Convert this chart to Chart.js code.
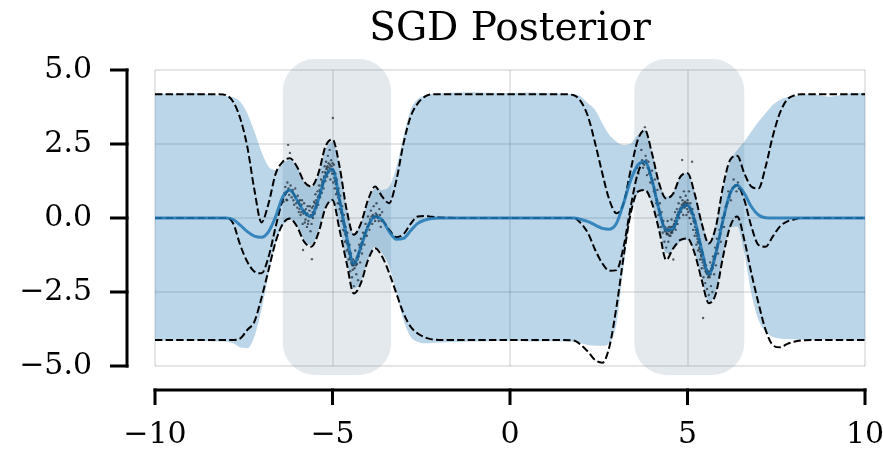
<!DOCTYPE html>
<html>
<head>
<meta charset="utf-8">
<script src="https://cdn.jsdelivr.net/npm/chart.js@4.4.1/dist/chart.umd.min.js"></script>
<style>
  html, body { margin: 0; padding: 0; background: #fff; }
  canvas { display: block; }
</style>
</head>
<body>
<canvas id="posterior" width="883" height="449"></canvas>
<script>
// Common input grid for every curve
const xs = [
  -10, -9.5, -9, -8.5, -8.2,
  -8.0, -7.8, -7.6, -7.4, -7.2, -7.0, -6.8, -6.6, -6.4, -6.2, -6.0, -5.8, -5.6, -5.4, -5.2, -5.0,
  -4.8, -4.6, -4.4, -4.2, -4.0, -3.8, -3.6, -3.4, -3.2, -3.0, -2.8, -2.6, -2.4, -2.2, -2.0,
  -1.5, -1.0, -0.5, 0, 0.5, 1.0, 1.5, 1.8,
  2.0, 2.2, 2.4, 2.6, 2.8, 3.0, 3.2, 3.4, 3.6, 3.8, 4.0, 4.2, 4.4, 4.6, 4.8, 5.0,
  5.2, 5.4, 5.6, 5.8, 6.0, 6.2, 6.4, 6.6, 6.8, 7.0, 7.2, 7.4, 7.6, 7.8, 8.0,
  8.2, 8.5, 9.0, 9.5, 10
];

// Exact posterior: mean and +/- 2 std (dashed)
const exactUpper = [
  4.18, 4.18, 4.18, 4.18, 4.18,
  4.15, 3.93, 3.37, 2.41, 0.95, -0.15, 0.5, 1.5, 1.9, 2.02, 1.73, 1.23, 1.06, 1.5, 2.41, 2.66,
  1.73, 0.27, -0.57, -0.18, 0.61, 1.06, 0.72, 0.5, 1.28, 2.52, 3.42, 3.87, 4.1, 4.18, 4.18,
  4.18, 4.18, 4.18, 4.18, 4.18, 4.18, 4.18, 4.15,
  3.93, 3.42, 2.52, 1.51, 0.61, 0.16, 0.5, 1.62, 2.64, 2.97, 2.18, 1.17, 0.66, 0.83, 1.4, 1.51,
  0.83, -0.18, -0.86, -0.29, 1.06, 1.96, 2.1, 1.51, 1.06, 1.0, 1.73, 2.75, 3.54, 3.99, 4.14,
  4.18, 4.18, 4.18, 4.18, 4.18
];
const exactMean = [
  0, 0, 0, 0, 0,
  0, -0.18, -0.91, -1.48, -1.81, -1.87, -1.31, -0.29, 0.61, 0.95, 0.61, 0.21, 0.05, 0.61, 1.4, 1.65,
  0.61, -0.63, -1.55, -0.97, -0.29, 0.05, -0.07, -0.4, -0.65, -0.55, -0.2, 0.05, 0.07, 0.04, 0.02,
  0, 0, 0, 0, 0, 0, 0, 0,
  -0.18, -0.52, -1.08, -1.53, -1.78, -1.76, -0.97, 0.38, 1.51, 1.9, 1.28, 0.27, -0.41, -0.35, 0.27, 0.44,
  -0.07, -1.08, -1.9, -1.19, -0.07, 0.83, 1.11, 0.61, -0.29, -0.91, -0.97, -0.63, -0.29, -0.12, -0.05,
  0, 0, 0, 0, 0
];
const exactLower = [
  -4.12, -4.12, -4.12, -4.12, -4.12,
  -4.12, -4.12, -4.07, -3.78, -3.5, -2.7, -1.75, -0.8, -0.2, -0.02, -0.29, -0.8, -0.97, -0.52, 0.33, 0.61,
  -0.41, -1.53, -2.55, -2.2, -1.42, -1.02, -1.31, -1.87, -2.55, -3.22, -3.67, -3.9, -4.03, -4.1, -4.12,
  -4.12, -4.12, -4.12, -4.12, -4.12, -4.12, -4.12, -4.14,
  -4.29, -4.52, -4.8, -4.89, -4.35, -3.0, -1.31, 0.16, 0.89, 0.95, 0.5, -0.41, -1.42, -1.02, -0.74, -0.69,
  -1.19, -2.09, -2.88, -2.55, -1.31, -0.29, 0.05, -0.74, -1.87, -2.88, -3.78, -4.29, -4.37, -4.26, -4.18,
  -4.14, -4.12, -4.12, -4.12, -4.12
];

// SGD approximation: mean and +/- 2 std band
const sgdMean = [
  0, 0, 0, 0, 0,
  0, -0.05, -0.24, -0.46, -0.61, -0.65, -0.46, 0.05, 0.72, 0.95, 0.61, 0.21, 0.05, 0.61, 1.4, 1.65,
  0.61, -0.63, -1.55, -0.97, -0.29, 0.05, -0.07, -0.46, -0.72, -0.69, -0.43, -0.18, -0.07, -0.02, 0,
  0, 0, 0, 0, 0, 0, 0, 0,
  -0.05, -0.12, -0.24, -0.35, -0.38, -0.18, 0.5, 1.28, 1.79, 1.9, 1.28, 0.27, -0.41, -0.35, 0.27, 0.44,
  -0.07, -1.08, -1.9, -1.19, -0.07, 0.83, 1.11, 0.83, 0.38, 0.1, 0.01, 0, 0, 0, 0,
  0, 0, 0, 0, 0
];
const sgdUpper = [
  4.21, 4.2, 4.23, 4.18, 4.14,
  4.12, 4.08, 3.93, 3.54, 2.92, 2.24, 1.73, 1.62, 1.85, 1.96, 1.73, 1.23, 1.06, 1.45, 2.3, 2.58,
  1.73, 0.33, -0.52, -0.18, 0.55, 1.0, 0.95, 1.06, 1.73, 2.75, 3.65, 4.01, 4.13, 4.19, 4.21,
  4.24, 4.25, 4.23, 4.22, 4.24, 4.22, 4.2, 4.18,
  4.1, 3.87, 3.65, 3.2, 2.8, 2.58, 2.47, 2.52, 2.8, 2.97, 2.24, 1.23, 0.72, 0.89, 1.4, 1.51,
  0.89, -0.07, -0.8, -0.24, 1.0, 1.9, 2.3, 2.58, 2.92, 3.25, 3.54, 3.82, 3.99, 4.08, 4.12,
  4.16, 4.18, 4.1, 4.2, 4.23
];
const sgdLower = [
  -4.12, -4.15, -4.13, -4.16, -4.17,
  -4.18, -4.23, -4.37, -4.4, -4.0, -3.1, -1.9, -0.85, -0.25, -0.05, -0.29, -0.74, -0.91, -0.46, 0.38, 0.55,
  -0.29, -1.42, -2.38, -2.15, -1.42, -0.97, -1.19, -1.64, -2.55, -3.45, -4.01, -4.18, -4.23, -4.22, -4.21,
  -4.19, -4.17, -4.16, -4.15, -4.17, -4.16, -4.17, -4.18,
  -4.23, -4.29, -4.32, -4.32, -4.23, -3.56, -1.64, 0.05, 0.83, 0.92, 0.5, -0.35, -1.19, -1.08, -0.8, -0.74,
  -1.19, -2.04, -2.83, -2.5, -1.31, -0.35, -0.29, -1.19, -2.55, -3.45, -3.84, -4.01, -4.07, -4.09, -4.1,
  -4.11, -4.12, -4.11, -4.13, -4.14
];

// Noisy training observations, [x, y]
const observationsLeft = [
  [-6.38, 0.55], [-6.35, 0.85], [-6.33, 1.05], [-6.30, 0.62], [-6.28, 0.6], [-6.27, 1.2], [-6.25, 2.47],
  [-6.24, 1.0], [-6.22, 0.78], [-6.20, 2.2], [-6.18, 1.1], [-6.16, 0.9], [-6.15, 0.7], [-6.12, 0.95],
  [-6.10, 0.6], [-6.08, 0.45], [-6.05, 1.0], [-6.04, 0.7], [-6.02, 0.5], [-5.99, 0.35], [-5.98, 0.75],
  [-5.96, 0.55], [-5.95, 0.2], [-5.93, 0.3], [-5.92, 0.6], [-5.90, 0.1], [-5.88, 0.2], [-5.87, 0.45],
  [-5.86, 0.6], [-5.84, -0.2], [-5.83, -1.08], [-5.82, 0.15], [-5.80, 0.5], [-5.79, 0.25], [-5.78, -0.15],
  [-5.76, -0.05], [-5.75, 0.3], [-5.74, 0.1], [-5.72, -0.3], [-5.71, 0.15], [-5.70, 0.4], [-5.69, -0.2],
  [-5.68, -0.1], [-5.66, 0.05], [-5.65, 0.25], [-5.64, 0.4], [-5.62, -0.45], [-5.61, 0.1], [-5.59, -0.2],
  [-5.58, -1.39], [-5.58, 0.35], [-5.56, 0.2], [-5.55, 0.0], [-5.54, 0.4], [-5.52, 0.55], [-5.51, 0.3],
  [-5.50, 0.15], [-5.49, 0.5], [-5.48, 0.8], [-5.46, 0.6], [-5.45, 0.35], [-5.44, 0.45], [-5.42, 0.9],
  [-5.41, 0.7], [-5.40, 0.45], [-5.39, 0.75], [-5.38, 1.1], [-5.36, 0.95], [-5.35, 0.7], [-5.34, 0.9],
  [-5.32, 1.3], [-5.31, 1.1], [-5.30, 0.85], [-5.29, 1.2], [-5.28, 1.55], [-5.27, 1.25], [-5.25, 1.0],
  [-5.24, 1.4], [-5.23, 1.35], [-5.22, 1.75], [-5.21, 1.55], [-5.20, 1.25], [-5.19, 1.5], [-5.18, 1.9],
  [-5.17, 1.65], [-5.16, 1.7], [-5.15, 1.4], [-5.14, 1.75], [-5.13, 2.1], [-5.12, 1.6], [-5.11, 1.85],
  [-5.10, 1.55], [-5.09, 1.7], [-5.08, 2.3], [-5.07, 1.8], [-5.06, 1.3], [-5.05, 1.65], [-5.04, 1.95],
  [-5.03, 1.75], [-5.02, 1.6], [-5.01, 1.5], [-5.00, 1.85], [-4.99, 3.38], [-4.98, 1.2], [-4.97, 1.5],
  [-4.96, 1.8], [-4.95, 1.35], [-4.94, 1.0], [-4.93, 1.25], [-4.92, 1.5], [-4.91, 1.15], [-4.90, 0.8],
  [-4.89, 1.0], [-4.88, 1.3], [-4.87, 0.85], [-4.86, 0.9], [-4.85, 0.5], [-4.84, 0.7], [-4.83, 1.0],
  [-4.82, 0.65], [-4.81, 0.5], [-4.80, 0.3], [-4.79, 0.45], [-4.78, 0.75], [-4.77, 0.3], [-4.76, 0.2],
  [-4.75, -0.1], [-4.74, 0.15], [-4.73, 0.4], [-4.72, 0.0], [-4.71, -0.1], [-4.70, -0.4], [-4.69, -0.2],
  [-4.68, 0.1], [-4.67, -0.3], [-4.66, -0.45], [-4.65, -0.8], [-4.64, -0.55], [-4.63, -0.3], [-4.62, -0.6],
  [-4.61, -0.75], [-4.60, -1.1], [-4.59, -0.85], [-4.58, -0.5], [-4.57, -0.9], [-4.56, -1.05], [-4.55, -1.4],
  [-4.54, -1.15], [-4.53, -1.2], [-4.52, -0.9], [-4.51, -1.35], [-4.50, -1.8], [-4.49, -1.4], [-4.48, -1.2],
  [-4.47, -1.5], [-4.46, -1.55], [-4.45, -2.0], [-4.44, -1.6], [-4.43, -1.75], [-4.42, -1.4], [-4.41, -1.6],
  [-4.40, -2.3], [-4.39, -1.55], [-4.38, -1.7], [-4.37, -1.45], [-4.36, -1.1], [-4.35, -1.5], [-4.34, -1.6],
  [-4.33, -1.9], [-4.32, -1.35], [-4.31, -1.55], [-4.30, -1.3], [-4.29, -1.4], [-4.28, -2.1], [-4.27, -1.2],
  [-4.26, -1.3], [-4.25, -0.9], [-4.24, -1.15], [-4.23, -1.0], [-4.22, -1.5], [-4.21, -0.95], [-4.20, -0.7],
  [-4.19, -1.05], [-4.18, -0.85], [-4.17, -1.2], [-4.16, -0.8], [-4.14, -0.5], [-4.13, -0.7], [-4.11, -0.6],
  [-4.10, -0.9], [-4.08, -0.5], [-4.07, -0.2], [-4.05, -0.4], [-4.03, -0.6], [-4.02, -0.3], [-4.00, 0.05],
  [-3.98, -0.2], [-3.96, -0.4], [-3.94, -0.05], [-3.92, 0.25], [-3.90, 0.05], [-3.88, -0.2], [-3.86, 0.1],
  [-3.84, 0.4], [-3.82, 0.0], [-3.80, -0.1], [-3.78, 0.15], [-3.76, 0.5], [-3.74, 0.1], [-3.72, 0.0],
  [-3.70, -0.1], [-3.68, 0.3], [-3.66, 0.1], [-3.64, -0.3], [-3.62, -0.1], [-3.60, 0.2]
];
const observationsRight = [
  [3.58, 1.7], [3.62, 1.5], [3.66, 1.85], [3.70, 2.3], [3.72, 1.95], [3.75, 1.7], [3.78, 1.8],
  [3.80, 3.07], [3.82, 2.1], [3.84, 1.95], [3.86, 1.45], [3.88, 1.7], [3.90, 1.9], [3.92, 1.5],
  [3.95, 1.2], [3.97, 1.45], [4.00, 1.6], [4.02, 1.15], [4.05, 0.9], [4.06, 1.05], [4.08, 1.3],
  [4.10, 0.75], [4.12, 0.5], [4.14, 0.6], [4.15, 0.95], [4.17, 0.45], [4.18, 0.1], [4.20, 0.3],
  [4.22, 0.5], [4.23, 0.15], [4.25, -0.3], [4.26, 0.0], [4.27, 0.2], [4.29, -0.1], [4.30, -0.5],
  [4.31, -0.25], [4.32, -0.1], [4.34, -0.3], [4.35, -0.8], [4.36, -0.45], [4.37, -0.3], [4.39, -0.4],
  [4.40, -1.0], [4.41, -0.5], [4.42, -0.55], [4.43, -0.35], [4.44, -0.1], [4.45, -0.55], [4.46, -0.8],
  [4.47, -0.45], [4.48, -0.3], [4.49, -0.6], [4.50, -1.2], [4.51, -0.4], [4.52, -0.6], [4.53, -0.5],
  [4.54, -0.3], [4.55, -0.05], [4.56, -0.45], [4.57, -0.5], [4.58, -0.3], [4.59, -0.4], [4.60, -1.4],
  [4.61, -0.25], [4.62, -0.2], [4.63, -0.35], [4.64, -0.1], [4.65, 0.2], [4.66, -0.2], [4.67, -0.4],
  [4.68, 0.0], [4.69, -0.1], [4.70, 0.3], [4.71, 0.1], [4.72, -0.2], [4.73, 0.05], [4.74, 0.2],
  [4.75, 0.5], [4.76, 0.15], [4.77, 0.0], [4.78, 0.3], [4.79, 0.25], [4.80, 0.7], [4.81, 0.35],
  [4.82, 0.2], [4.83, 0.3], [4.84, 0.45], [4.85, 1.96], [4.86, 0.6], [4.87, 0.4], [4.88, 0.1],
  [4.89, 0.5], [4.90, 0.9], [4.91, 0.45], [4.92, 0.35], [4.93, 0.55], [4.94, 0.4], [4.95, 0.75],
  [4.96, 0.5], [4.97, 0.1], [4.98, 0.45], [4.99, 0.3], [5.00, 0.6], [5.01, 0.5], [5.02, 0.2],
  [5.03, 0.4], [5.04, 0.9], [5.05, 0.35], [5.06, 0.0], [5.07, 0.25], [5.08, 0.5], [5.09, 0.3],
  [5.10, -0.2], [5.11, 0.15], [5.12, 0.2], [5.13, 1.9], [5.14, 0.3], [5.15, 0.0], [5.16, -0.4],
  [5.17, -0.1], [5.18, 0.1], [5.19, -0.15], [5.20, -0.6], [5.21, -0.3], [5.22, -0.1], [5.23, -0.4],
  [5.24, -0.5], [5.25, -0.9], [5.26, -0.6], [5.27, -0.4], [5.28, -0.7], [5.29, -0.8], [5.30, -1.1],
  [5.31, -0.85], [5.32, -0.6], [5.33, -1.0], [5.34, -1.05], [5.35, -1.4], [5.36, -1.15], [5.37, -0.9],
  [5.38, -1.25], [5.39, -1.3], [5.40, -1.7], [5.41, -1.4], [5.42, -1.2], [5.43, -1.5], [5.44, -3.38],
  [5.45, -2.0], [5.46, -1.6], [5.47, -1.4], [5.48, -1.7], [5.49, -1.65], [5.50, -2.2], [5.51, -1.8],
  [5.52, -1.6], [5.53, -1.85], [5.54, -1.75], [5.55, -2.4], [5.56, -1.9], [5.57, -1.8], [5.58, -2.0],
  [5.59, -1.85], [5.60, -2.6], [5.61, -1.95], [5.62, -2.0], [5.63, -1.8], [5.64, -1.5], [5.65, -1.9],
  [5.66, -2.3], [5.67, -1.75], [5.68, -1.7], [5.69, -1.6], [5.70, -2.5], [5.71, -1.7], [5.72, -1.3],
  [5.73, -1.5], [5.74, -1.4], [5.75, -1.9], [5.76, -1.35], [5.78, -1.0], [5.79, -1.2], [5.80, -1.6],
  [5.81, -1.1], [5.83, -0.7], [5.84, -0.9], [5.86, -1.2], [5.88, -0.7], [5.90, -0.4], [5.92, -0.55],
  [5.94, -0.8], [5.96, -0.3], [5.98, 0.0], [6.00, -0.1], [6.03, -0.3], [6.05, 0.1], [6.08, 0.4],
  [6.12, 0.5], [6.15, 0.9], [6.18, 0.7], [6.22, 0.6], [6.26, 1.0], [6.30, 1.3], [6.34, 1.1],
  [6.38, 0.9], [6.42, 1.2], [6.45, 1.0]
];

// Shaded input regions where observations lie
const regionStart = [-6.4, 3.5];
const regionEnd = [-3.35, 6.6];
const regionTop = [5.37, 5.37];
const regionBottom = [-5.3, -5.3];

const serif = "'DejaVu Serif', 'Liberation Serif', serif";
const toPoints = (arr) => xs.map((x, i) => ({ x: x, y: arr[i] }));
const pairsToPoints = (pairs) => pairs.map(p => ({ x: p[0], y: p[1] }));
const minusSign = (s) => s.replace('-', '\u2212');

// rounded boxes behind the curves, drawn through the scales
const regionBoxes = {
  id: 'regionBoxes',
  beforeDatasetsDraw(chart) {
    const { ctx, scales: { x, y } } = chart;
    ctx.save();
    ctx.fillStyle = 'rgba(105, 133, 161, 0.18)';
    for (let i = 0; i < regionStart.length; i++) {
      const left = x.getPixelForValue(regionStart[i]);
      const right = x.getPixelForValue(regionEnd[i]);
      const top = y.getPixelForValue(regionTop[i]);
      const bottom = y.getPixelForValue(regionBottom[i]);
      ctx.beginPath();
      ctx.roundRect(left, top, right - left, bottom - top, 32);
      ctx.fill();
    }
    ctx.restore();
  }
};

// matplotlib-style spines, pushed out from the plot area
const offsetSpines = {
  id: 'offsetSpines',
  afterDraw(chart) {
    const { ctx, chartArea, scales: { x, y } } = chart;
    const spineX = chartArea.left - 28;
    const spineY = chartArea.bottom + 24;
    ctx.save();
    ctx.strokeStyle = '#000';
    ctx.lineWidth = 3;
    ctx.lineCap = 'butt';

    ctx.beginPath();
    ctx.moveTo(spineX, y.getPixelForValue(y.max) - 1.5);
    ctx.lineTo(spineX, y.getPixelForValue(y.min) + 1.5);
    ctx.moveTo(x.getPixelForValue(x.min) - 1.5, spineY);
    ctx.lineTo(x.getPixelForValue(x.max) + 1.5, spineY);
    ctx.stroke();

    ctx.beginPath();
    y.ticks.forEach(t => {
      const py = y.getPixelForValue(t.value);
      ctx.moveTo(spineX - 17, py);
      ctx.lineTo(spineX + 1.5, py);
    });
    x.ticks.forEach(t => {
      const px = x.getPixelForValue(t.value);
      ctx.moveTo(px, spineY - 1.5);
      ctx.lineTo(px, spineY + 15);
    });
    ctx.stroke();
    ctx.restore();
  }
};

const smooth = { cubicInterpolationMode: 'monotone', pointRadius: 0 };
const dashed = { borderColor: '#000', borderWidth: 2, borderDash: [7.4, 3.2], fill: false, order: 3 };
const dots = { pointRadius: 1.2, pointBorderWidth: 0, pointBackgroundColor: 'rgba(25, 35, 45, 0.7)', order: 5 };

new Chart(document.getElementById('posterior'), {
  type: 'line',
  data: {
    datasets: [
      {
        label: 'SGD lower',
        data: toPoints(sgdLower),
        borderWidth: 0,
        borderColor: 'transparent',
        fill: false,
        order: 10,
        ...smooth
      },
      {
        label: 'SGD band',
        data: toPoints(sgdUpper),
        borderWidth: 0,
        borderColor: 'transparent',
        backgroundColor: 'rgba(31, 119, 180, 0.3)',
        fill: '-1',
        order: 9,
        ...smooth
      },
      { type: 'scatter', label: 'observations (left)', data: pairsToPoints(observationsLeft), ...dots },
      { type: 'scatter', label: 'observations (right)', data: pairsToPoints(observationsRight), ...dots },
      { label: 'exact upper', data: toPoints(exactUpper), ...dashed, ...smooth },
      { label: 'exact mean', data: toPoints(exactMean), ...dashed, ...smooth },
      { label: 'exact lower', data: toPoints(exactLower), ...dashed, ...smooth },
      {
        label: 'SGD mean',
        data: toPoints(sgdMean),
        borderColor: 'rgba(31, 119, 180, 0.85)',
        borderWidth: 3,
        fill: false,
        order: 1,
        ...smooth
      }
    ]
  },
  options: {
    responsive: false,
    animation: false,
    layout: { padding: { left: 0, right: 18, top: 0, bottom: 0 } },
    plugins: {
      legend: { display: false },
      tooltip: { enabled: false },
      title: {
        display: true,
        text: 'SGD Posterior',
        fullSize: false,
        color: '#000',
        font: { family: serif, size: 39, weight: 'normal', lineHeight: 1.2 },
        padding: { top: 6, bottom: 17.2 }
      }
    },
    scales: {
      x: {
        type: 'linear',
        min: -10,
        max: 10,
        border: { display: false },
        grid: { color: 'rgba(0, 0, 0, 0.1)', lineWidth: 2, drawTicks: false },
        ticks: {
          stepSize: 5,
          autoSkip: false,
          maxRotation: 0,
          padding: 51,
          color: '#000',
          font: { family: serif, size: 30 },
          callback: (v) => minusSign(String(v))
        },
        afterFit: (s) => { s.height = 83; s.paddingLeft = 0; s.paddingRight = 0; }
      },
      y: {
        min: -5,
        max: 5,
        border: { display: false },
        grid: { color: 'rgba(0, 0, 0, 0.1)', lineWidth: 2, drawTicks: false },
        ticks: {
          stepSize: 2.5,
          padding: 63,
          color: '#000',
          font: { family: serif, size: 30 },
          callback: (v) => minusSign(v.toFixed(1))
        },
        afterFit: (s) => { s.width = 155; s.paddingTop = 0; s.paddingBottom = 0; }
      }
    }
  },
  plugins: [regionBoxes, offsetSpines]
});
</script>
</body>
</html>
